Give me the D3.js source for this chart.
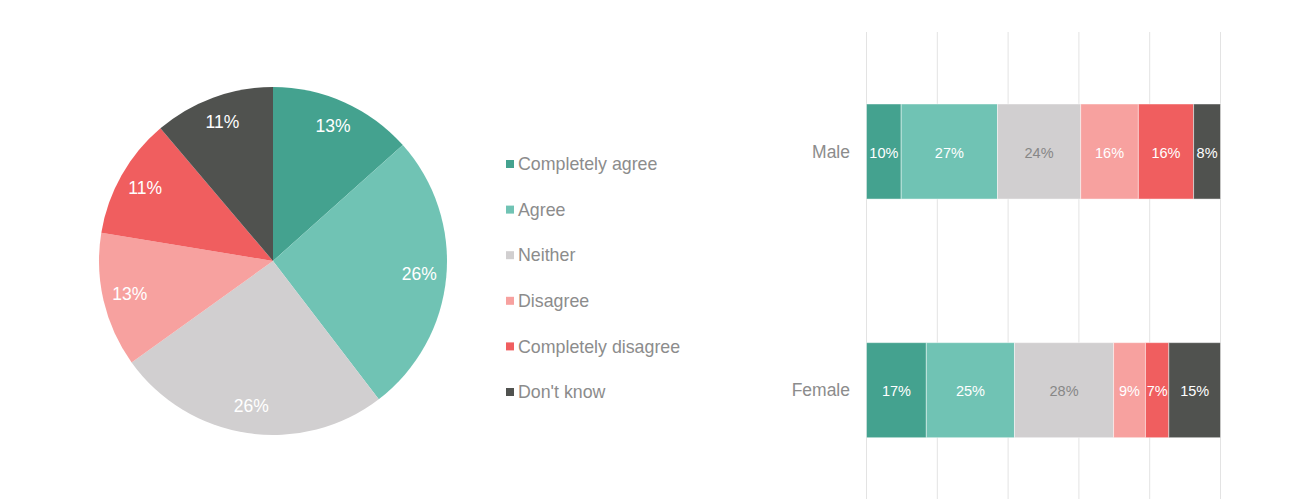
<!DOCTYPE html>
<html>
<head>
<meta charset="utf-8">
<script src="https://cdn.jsdelivr.net/npm/d3@7"></script>
<style>
  body { margin: 0; background: #fff; }
  svg { display: block; font-family: "Liberation Sans", Arial, sans-serif; }
</style>
</head>
<body>
<svg id="chart" width="1291" height="499"></svg>
<script>
// answer categories, shared by the pie, the legend and the bars
const answers = ['Completely agree', 'Agree', 'Neither', 'Disagree', 'Completely disagree', "Don't know"];
const answerColors = ['#44a28f', '#70c3b4', '#d1cfd0', '#f7a19f', '#f05e5f', '#50524f'];

// overall split (pie)
const totalShares = [13.4, 26.2, 25.5, 12.5, 11.2, 11.2];

// split by gender (stacked bars)
const genders = ['Male', 'Female'];
const maleShares = [9.8, 27.2, 23.5, 16.3, 15.6, 7.6];
const femaleShares = [16.9, 24.9, 28.0, 9.0, 6.6, 14.6];

const axisTicks = [0, 20, 40, 60, 80, 100];

const svg = d3.select('#chart');
const color = d3.scaleOrdinal(answers, answerColors);

// ---- pie ----
const radius = 174;
const pieG = svg.append('g').attr('transform', 'translate(273,261)');
const pie = d3.pie().sort(null).value((d) => d.value);
const arc = d3.arc().innerRadius(0).outerRadius(radius);
const labelArc = d3.arc().innerRadius(147).outerRadius(147);
const slices = pie(answers.map((a, i) => ({ key: a, value: totalShares[i] })));

pieG.selectAll('path')
  .data(slices)
  .join('path')
  .attr('d', arc)
  .attr('fill', (d) => color(d.data.key));

pieG.selectAll('text')
  .data(slices)
  .join('text')
  .attr('transform', (d) => `translate(${labelArc.centroid(d)})`)
  .attr('text-anchor', 'middle')
  .attr('dy', '0.3em')
  .attr('fill', '#fff')
  .style('font-size', '17.5px')
  .text((d) => `${Math.round(d.data.value)}%`);

// ---- legend ----
const legendY = d3.scalePoint().domain(answers).range([164, 392]);
const legend = svg.append('g');
const items = legend.selectAll('g')
  .data(answers)
  .join('g')
  .attr('transform', (d) => `translate(506,${legendY(d)})`);
items.append('rect')
  .attr('x', 0)
  .attr('y', -4)
  .attr('width', 8)
  .attr('height', 8)
  .attr('fill', (d) => color(d));
items.append('text')
  .attr('x', 12)
  .attr('dy', '0.35em')
  .attr('fill', '#8c8c8c')
  .style('font-size', '17.8px')
  .text((d) => d);

// ---- stacked bars ----
const x = d3.scaleLinear().domain([0, 100]).range([866.5, 1220.5]);
const y = d3.scaleBand().domain(genders).range([104, 437.7]).paddingInner(0.6017).paddingOuter(0);

svg.append('g')
  .selectAll('line')
  .data(axisTicks)
  .join('line')
  .attr('x1', (d) => x(d))
  .attr('x2', (d) => x(d))
  .attr('y1', 32)
  .attr('y2', 499)
  .attr('stroke', '#e3e3e3')
  .attr('stroke-width', 1);

const byGender = { Male: maleShares, Female: femaleShares };
const rows = genders.map((g) => {
  const row = { gender: g };
  answers.forEach((a, i) => { row[a] = byGender[g][i]; });
  return row;
});
const series = d3.stack().keys(answers)(rows);

const layers = svg.append('g')
  .selectAll('g')
  .data(series)
  .join('g')
  .attr('fill', (d) => color(d.key));

layers.selectAll('rect')
  .data((d) => d)
  .join('rect')
  .attr('x', (d) => x(d[0]))
  .attr('y', (d) => y(d.data.gender))
  .attr('width', (d) => x(d[1]) - x(d[0]))
  .attr('height', y.bandwidth())
  .attr('stroke', 'rgba(255,255,255,0.45)')
  .attr('stroke-width', 1);

layers.selectAll('text')
  .data((d) => d.map((v) => ({ v, key: d.key })))
  .join('text')
  .attr('x', (d) => (x(d.v[0]) + x(d.v[1])) / 2)
  .attr('y', (d) => y(d.v.data.gender) + y.bandwidth() / 2 + 1)
  .attr('dy', '0.35em')
  .attr('text-anchor', 'middle')
  .attr('fill', (d) => (d.key === 'Neither' ? '#878787' : '#fff'))
  .style('font-size', '14.5px')
  .text((d) => `${Math.round(d.v[1] - d.v[0])}%`);

svg.append('g')
  .selectAll('text')
  .data(genders)
  .join('text')
  .attr('x', 850)
  .attr('y', (d) => y(d) + y.bandwidth() / 2)
  .attr('dy', '0.35em')
  .attr('text-anchor', 'end')
  .attr('fill', '#8c8c8c')
  .style('font-size', '17.5px')
  .text((d) => d);
</script>
</body>
</html>
